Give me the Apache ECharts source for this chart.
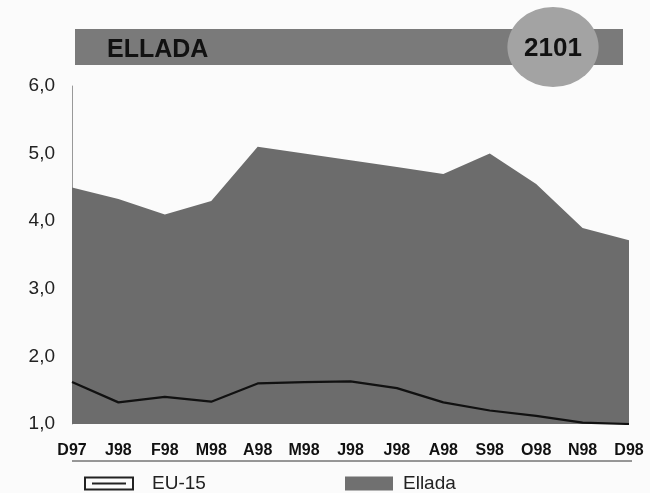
<!DOCTYPE html>
<html><head><meta charset="utf-8">
<script src="https://cdn.jsdelivr.net/npm/echarts@6/dist/echarts.min.js"></script>
<style>html,body{margin:0;padding:0;background:#fbfbfb}#c{width:650px;height:493px}</style>
</head><body><div id="c"></div>
<script>
var categories = ['D97','J98','F98','M98','A98','M98','J98','J98','A98','S98','O98','N98','D98'];
var elladaValues = [4.5, 4.33, 4.1, 4.3, 5.1, 5.0, 4.9, 4.8, 4.7, 5.0, 4.55, 3.9, 3.72];
var eu15Values = [1.62, 1.32, 1.4, 1.33, 1.6, 1.62, 1.63, 1.53, 1.32, 1.2, 1.12, 1.02, 1.0];
var yTicks = [1, 2, 3, 4, 5, 6];
var titleText = 'ELLADA';
var badgeText = '2101';

var chart = echarts.init(document.getElementById('c'));
var FF = 'Liberation Sans, Arial, sans-serif';
chart.setOption({
  backgroundColor: '#fbfbfb',
  animation: false,
  title: { text: titleText, left: 102, top: 33, textStyle: { fontFamily: FF, fontSize: 25, fontWeight: 'bold', color: '#111' } },
  grid: { left: 72, right: 21, top: 86, bottom: 69 },
  xAxis: {
    type: 'category', data: categories, boundaryGap: false,
    axisLine: { show: false }, axisTick: { show: false },
    axisLabel: { fontFamily: 'Liberation Sans Narrow, Liberation Sans, Arial', fontWeight: 'bold', fontSize: 16, color: '#111', margin: 19 }
  },
  yAxis: {
    type: 'value', min: yTicks[0], max: yTicks[yTicks.length - 1], interval: 1,
    axisLine: { show: true, lineStyle: { color: '#999', width: 1 } },
    axisTick: { show: false }, splitLine: { show: false },
    axisLabel: { fontFamily: FF, fontSize: 19, color: '#222', margin: 17,
      formatter: function (v) { return v.toFixed(1).replace('.', ','); } }
  },
  legend: [
    { left: 79, top: 469, itemWidth: 50, itemHeight: 14, itemGap: 12,
      textStyle: { fontFamily: FF, fontSize: 19, color: '#222', padding: [0, 0, 0, 13] },
      data: [{ name: 'EU-15', icon: 'path://M0,0 L50,0 L50,14 L0,14 Z M2,2 L2,12 L48,12 L48,2 Z M8,6 L42,6 L42,8 L8,8 Z', itemStyle: { color: '#222' } }] },
    { left: 340, top: 469, itemWidth: 48, itemHeight: 14, itemGap: 12,
      textStyle: { fontFamily: FF, fontSize: 19, color: '#222', padding: [0, 0, 0, 5] },
      data: [{ name: 'Ellada', icon: 'rect', itemStyle: { color: '#707070' } }] }
  ],
  graphic: [
    { type: 'rect', z: -1, shape: { x: 75, y: 29, width: 548, height: 36 }, style: { fill: '#7a7a7a' } },
    { type: 'circle', z: 1, shape: { cx: 0, cy: 0, r: 40 }, x: 553, y: 47, scaleX: 1.14, style: { fill: '#a3a3a3' } },
    { type: 'text', z: 2, x: 553, y: 49, style: { text: badgeText, fill: '#111', font: 'bold 26px Liberation Sans, Arial', textAlign: 'center', textVerticalAlign: 'middle' } },
    { type: 'line', shape: { x1: 72, y1: 461, x2: 632, y2: 461 }, style: { stroke: '#333', lineWidth: 1 } }
  ],
  series: [
    { name: 'Ellada', type: 'line', data: elladaValues, symbol: 'none', z: 1,
      lineStyle: { width: 0 }, itemStyle: { color: '#707070' },
      areaStyle: { color: '#6c6c6c', opacity: 1, origin: 'start' } },
    { name: 'EU-15', type: 'line', data: eu15Values, symbol: 'none', z: 3,
      lineStyle: { color: '#111', width: 2.2 }, itemStyle: { color: '#111' } }
  ]
});
</script></body></html>
